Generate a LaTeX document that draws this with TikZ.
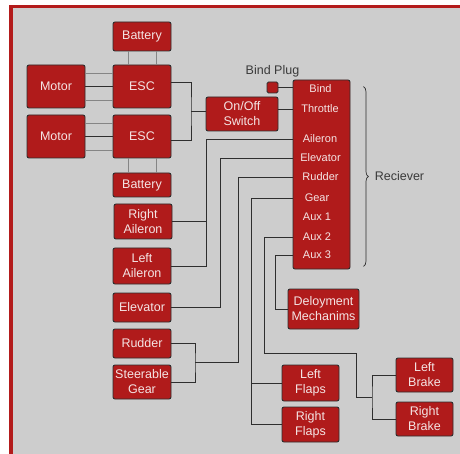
\documentclass[tikz,border=0pt]{standalone}
\usepackage{fontspec}
\setmainfont{Liberation Sans}
\usetikzlibrary{positioning,calc,decorations.pathreplacing}
\definecolor{framered}{HTML}{B31B1B}
\definecolor{panel}{HTML}{CDCDCD}
\definecolor{partred}{HTML}{B01B1B}
\definecolor{ink}{HTML}{F4E4E4}
\definecolor{wirecol}{HTML}{2E2E2E}
\definecolor{leadcol}{HTML}{858585}
\definecolor{labelcol}{HTML}{3A3A3A}

\begin{document}
\begin{tikzpicture}[x=1pt,y=-1pt,
  every node/.style={font=\fontsize{12.5}{15}\selectfont},
  unit/.style={draw=wirecol,fill=partred,text=ink,rounded corners=2pt,
    line width=0.9pt,align=center,inner sep=0pt,minimum width=58pt},
  chan/.style={text=ink,font=\fontsize{11}{13}\selectfont,inner sep=0pt},
  link/.style={draw=wirecol,line width=0.9pt},
  lead/.style={draw=leadcol,line width=0.9pt}]
\useasboundingbox (0,0) rectangle (460,454);
\fill[framered] (9,5) rectangle (460,454);
\fill[panel] (13,8.5) rectangle (460,454);

% power side
\node[unit,minimum height=29pt] (bat1) at (142,36.5) {Battery};
\node[unit,minimum height=43pt] (esc1) at (142,86.5) {ESC};
\node[unit,minimum height=43pt] (mot1) at (56,86.5) {Motor};
\node[unit,minimum height=43pt] (mot2) at (56,136.5) {Motor};
\node[unit,minimum height=43pt] (esc2) at (142,136.5) {ESC};
\node[unit,minimum height=24pt] (bat2) at (142,185) {Battery};
\node[unit,minimum width=72pt,minimum height=34pt] (sw) at (242,114)
  {On/Off\\Switch};

% servos on the left
\node[unit,minimum height=35pt] (rail) at (143,221.5) {Right\\Aileron};
\node[unit,minimum height=36pt] (lail) at (142,266) {Left\\Aileron};
\node[unit,minimum height=29pt] (elev) at (142,307.5) {Elevator};
\node[unit,minimum height=29pt] (rud) at (142,343.5) {Rudder};
\node[unit,minimum height=34pt] (steer) at (142,382) {Steerable\\Gear};

% receiver
\node[unit,minimum width=57pt,minimum height=189pt] (rx) at (321.5,174.5) {};
\node[chan] (rBind) at (320.5,89) {Bind};
\node[chan] (rThr) at (320,109) {Throttle};
\node[chan] (rAil) at (320,139) {Aileron};
\node[chan] (rEle) at (320.5,158) {Elevator};
\node[chan] (rRud) at (320.5,177) {Rudder};
\node[chan] (rGear) at (317,198) {Gear};
\node[chan] (rAux1) at (317,217) {Aux 1};
\node[chan] (rAux2) at (317,237) {Aux 2};
\node[chan] (rAux3) at (317,255) {Aux 3};
\node[unit,minimum width=11pt,minimum height=11pt,rounded corners=1.5pt]
  (plug) at (272.5,87.5) {};
\node[text=labelcol,above=3pt of plug,inner sep=1pt] (plugname) {Bind Plug};
\draw[draw=wirecol,line width=0.7pt,decorate,decoration={brace,amplitude=5pt}]
  ([xshift=13pt,yshift=-7pt]rx.north east) --
  ([xshift=13pt,yshift=3pt]rx.south east)
  node[midway,right=10pt,text=labelcol,inner sep=1pt] (rxname) {Reciever};

% right hand parts
\node[unit,minimum width=71pt,minimum height=40pt] (dep) at (323.5,309)
  {Deloyment\\Mechanims};
\node[unit,minimum width=57pt,minimum height=36pt] (lflap) at (310.5,383)
  {Left\\Flaps};
\node[unit,minimum width=57pt,minimum height=35pt] (rflap) at (310.5,424.5)
  {Right\\Flaps};
\node[unit,minimum width=57pt,minimum height=34pt] (lbrake) at (424.5,375)
  {Left\\Brake};
\node[unit,minimum width=57pt,minimum height=34pt] (rbrake) at (424.5,419)
  {Right\\Brake};

% bus lines
\coordinate (escbus) at (191,0);
\coordinate (ailbus) at (206,0);
\coordinate (elebus) at (220,0);
\coordinate (rudbus) at (238,0);
\coordinate (yawbus) at (195,0);
\coordinate (geabus) at (251,0);
\coordinate (auxbus) at (264,0);
\coordinate (depbus) at (275,0);
\coordinate (brkbus) at (372,0);
\coordinate (brkjog) at (356,353);
\coordinate (escj) at ($(esc1.east)!0.5!(esc2.east)$);
\coordinate (yawj) at ($(rud.east)!0.5!(steer.east)$);
\coordinate (brkj) at ($(lbrake.west)!0.5!(rbrake.west)$);

% motor and battery leads
\foreach \m/\e in {mot1/esc1,mot2/esc2} {
  \draw[lead] ([yshift=13.5pt]\m.east) -- ([yshift=13.5pt]\e.west);
  \draw[link] (\m.east) -- (\e.west);
  \draw[lead] ([yshift=-13.5pt]\m.east) -- ([yshift=-13.5pt]\e.west);
}
\foreach \s in {-14,14} {
  \draw[lead] ([xshift=\s pt]bat1.south) -- ([xshift=\s pt]esc1.north);
  \draw[lead] ([xshift=\s pt]bat2.north) -- ([xshift=\s pt]esc2.south);
}

% connections
\draw[link] ([yshift=4pt]esc1.east) -| (escbus |- escj) |- ([yshift=-4pt]esc2.east);
\draw[link] (escbus |- escj) -- (sw.west |- escj);
\draw[link] (plug.east) -- (rx.west |- plug);
\draw[link] (sw.east |- rThr) -- (rx.west |- rThr);
\draw[link] (rx.west |- rAil) -| (ailbus |- lail) -- (lail.east);
\draw[link] (rail.east) -- (ailbus |- rail);
\draw[link] (rx.west |- rEle) -| (elebus |- elev) -- (elev.east);
\draw[link] (rx.west |- rRud) -| (rudbus |- yawj) -- (yawbus |- yawj);
\draw[link] (rud.east) -| (yawbus |- yawj) |- (steer.east);
\draw[link] (rx.west |- rGear) -| (geabus |- rflap) -- (rflap.west);
\draw[link] (lflap.west) -- (geabus |- lflap);
\draw[link] (rx.west |- rAux2) -| (auxbus |- brkjog) -- (brkjog)
  |- (brkbus |- brkj);
\draw[link] (lbrake.west) -| (brkbus |- brkj) |- (rbrake.west);
\draw[link] (rx.west |- rAux3) -| (depbus |- dep) -- (dep.west);
\end{tikzpicture}
\end{document}
